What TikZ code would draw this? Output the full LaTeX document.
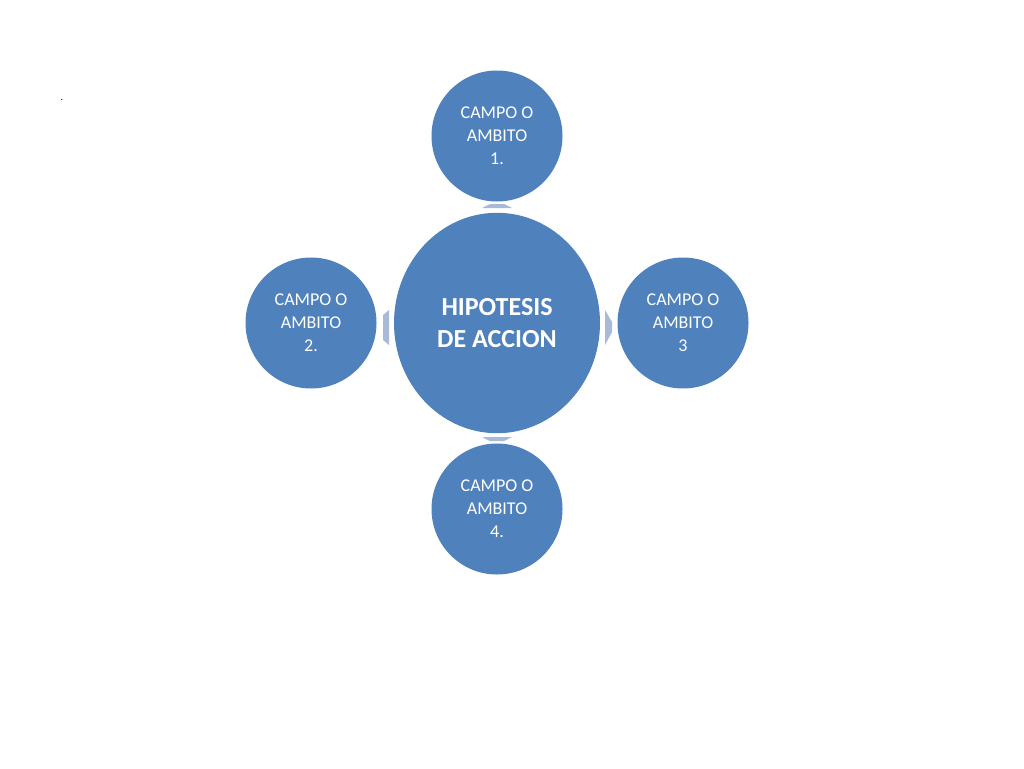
\documentclass[tikz,border=0pt]{standalone}
\usepackage{fontspec}
\setmainfont{Carlito}
\definecolor{acc}{HTML}{4F81BD}
\definecolor{arr}{HTML}{A9B9D8}
\begin{document}
\begin{tikzpicture}[x=1pt,y=-1pt,
  big/.style={circle,fill=acc,text=white,minimum size=#1,inner sep=0pt,align=center,font=\fontsize{18}{23}\selectfont},
  conn/.style={fill=arr}]
\useasboundingbox[fill=white] (0,0) rectangle (1024,768);
\node at (62,100) {.};
\node[circle,fill=acc,text=white,minimum width=206pt,inner sep=0pt,align=center,font=\bfseries\fontsize{26}{32}\selectfont,yscale=1.07] (c) at (497,323) {};
\node[text=white,align=center,font=\bfseries\fontsize{26}{32}\selectfont] (ct) at (497,323) {HIPOTESIS\\DE ACCION};
\node[big=131pt] (t) at (497,136) {CAMPO O\\AMBITO\\1.};
\node[big=131pt] (l) at (311,323) {CAMPO O\\AMBITO\\2.};
\node[big=131pt] (r) at (683,323) {CAMPO O\\AMBITO\\3};
\node[big=131pt] (b) at (497,509) {CAMPO O\\AMBITO\\4.};
% connectors (small block arrows pointing outward)
\fill[conn] (482,208) -- (490,204) -- (504,204) -- (512,208) -- cycle;
\fill[conn] (482,437) -- (512,437) -- (504,441) -- (490,441) -- cycle;
\fill[conn] (389,310) -- (389,345) -- (383,340) -- (383,315) -- cycle;
\fill[conn] (605,310) -- (605,345) -- (612,332) -- (612,322) -- cycle;
\end{tikzpicture}
\end{document}
